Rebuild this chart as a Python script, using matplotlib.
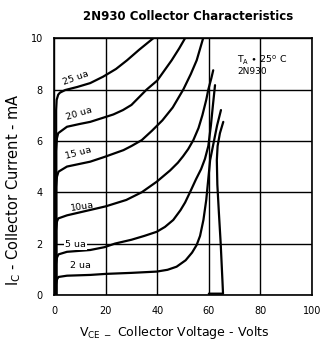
import matplotlib.pyplot as plt

# curves: collector voltage (V), collector current (mA)
v_25 = [0.8, 0.8, 1.0, 1.6, 2.3, 4.3, 9, 14, 19, 24, 28.3, 33, 38.5]
i_25 = [0.0, 7.2, 7.6, 7.8, 7.88, 7.98, 8.1, 8.25, 8.5, 8.8, 9.14, 9.55, 10.0]

v_20 = [0.8, 0.8, 1.1, 1.6, 5, 10, 14, 19, 23, 26.7, 30, 35.9, 40, 45.6, 48.5, 50.8]
i_20 = [0.0, 5.6, 6.1, 6.3, 6.55, 6.66, 6.74, 6.9, 7.03, 7.2, 7.4, 8.0, 8.35, 9.14, 9.6, 10.0]

v_15 = [0.8, 0.8, 1.1, 1.7, 5, 14, 19.4, 26.9, 30, 34, 38, 42, 46, 50.1, 53, 55.3, 57.8]
i_15 = [0.0, 4.2, 4.6, 4.8, 5.0, 5.19, 5.37, 5.64, 5.8, 6.03, 6.4, 6.8, 7.3, 8.0, 8.6, 9.14, 10.0]

v_10 = [0.8, 0.8, 1.1, 1.6, 5, 14, 20, 28, 34, 39.8, 45, 48, 50, 52, 54, 56, 57.5, 59, 59.8, 61.0, 61.7]
i_10 = [0.0, 2.5, 2.85, 2.98, 3.1, 3.31, 3.45, 3.7, 4.0, 4.41, 4.85, 5.15, 5.4, 5.68, 6.03, 6.5, 7.0, 7.6, 8.0, 8.45, 8.75]

v_5 = [0.8, 0.8, 1.1, 1.7, 5, 14, 19.5, 23.6, 30, 35, 39.8, 43, 46.2, 49, 50.8, 52.7, 55, 57, 58.5, 59.8, 60.8, 61.6, 62.4]
i_5 = [0.0, 1.2, 1.45, 1.58, 1.68, 1.75, 1.86, 2.0, 2.15, 2.3, 2.46, 2.65, 2.92, 3.3, 3.6, 4.0, 4.5, 4.9, 5.3, 5.8, 6.6, 7.4, 8.17]

v_2 = [0.8, 0.8, 1.1, 1.7, 5, 14, 20, 30, 39.8, 44, 47.5, 51, 53.5, 55.3, 56.6, 57.9, 59, 60.5, 61.8, 63.2, 64.7]
i_2 = [0.0, 0.4, 0.6, 0.7, 0.75, 0.78, 0.82, 0.86, 0.91, 0.98, 1.1, 1.35, 1.65, 1.95, 2.3, 2.92, 3.7, 5.25, 5.9, 6.6, 7.2]

v_0 = [60.0, 65.5, 65.3, 64.6, 63.9, 63.3, 63.1, 63.4, 64.3, 65.6]
i_0 = [0.05, 0.05, 0.5, 2.0, 3.2, 4.3, 5.25, 5.8, 6.3, 6.74]

curves = [(v_25, i_25), (v_20, i_20), (v_15, i_15), (v_10, i_10),
          (v_5, i_5), (v_2, i_2), (v_0, i_0)]

# curve labels: text, V, I, rotation
labels = [('25 ua', 4.2, 8.1, 20), ('20 ua', 5.2, 6.72, 17), ('15 ua', 4.8, 5.2, 15),
          ('10ua', 6.6, 3.18, 9), ('2 ua', 6.2, 0.98, 0)]

x_ticks = [0, 20, 40, 60, 80, 100]
y_ticks = [0, 2, 4, 6, 8, 10]

fig = plt.figure(figsize=(3.2, 3.47), dpi=100)
ax = fig.add_axes([0.169, 0.150, 0.806, 0.740])

for v, i in curves:
    ax.plot(v, i, color='black', lw=1.6, solid_capstyle='round')

for txt, v, i, rot in labels:
    ax.text(v, i, txt, fontsize=6.8, rotation=rot, ha='left', va='bottom',
            rotation_mode='anchor')

# the 5 ua label sits on the 2 mA grid line, breaking it
ax.text(8.3, 1.97, '5 ua', fontsize=6.8, ha='center', va='center', zorder=3,
        bbox=dict(facecolor='white', edgecolor='none', pad=0.8))

ax.text(71, 9.03, r'$\mathregular{T_A}$ $\bullet$ 25$^\mathregular{o}$ C', fontsize=6.8)
ax.text(71, 8.6, '2N930', fontsize=6.5)

ax.set_xlim(0, 100)
ax.set_ylim(0, 10)
ax.set_xticks(x_ticks)
ax.set_yticks(y_ticks)
ax.set_xticklabels(['0', '20', '40', '60', '80', '100'], fontsize=7)
ax.set_yticklabels([str(t) for t in y_ticks], fontsize=7)
ax.tick_params(length=0, pad=8)
ax.grid(True, color='black', lw=1.0)
ax.set_axisbelow(True)
for s in ax.spines.values():
    s.set_linewidth(1.2)

ax.set_title('2N930 Collector Characteristics', fontsize=8.5, fontweight='bold', pad=13, x=0.5 + 5 / 258)
ax.set_xlabel(r'$\mathregular{V_{CE\ -}}$ Collector Voltage - Volts', fontsize=9)
ax.xaxis.set_label_coords(0.465, -0.115)
ax.set_ylabel(r'$\mathregular{I_C}$ - Collector Current - mA', fontsize=10.5)
ax.yaxis.set_label_coords(-0.12, 0.41)

fig.savefig('out.png', dpi=100)
